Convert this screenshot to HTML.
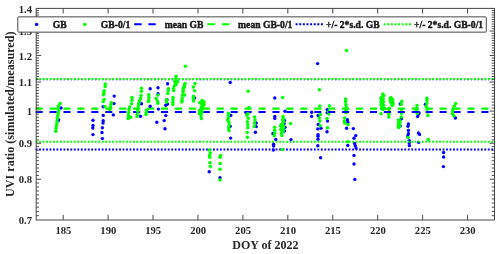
<!DOCTYPE html>
<html><head><meta charset="utf-8"><title>UVI ratio</title>
<style>html,body{margin:0;padding:0;background:#fff}svg{display:block}text{font-family:"Liberation Serif",serif;font-weight:bold;fill:#262626}</style></head>
<body>
<svg width="500" height="254" viewBox="0 0 500 254">
<rect width="500" height="254" fill="#fff"/>
<g fill="#0000ff">
<circle cx="317.6" cy="63.6" r="1.7"/>
<circle cx="327.2" cy="109.6" r="1.7"/>
<circle cx="311.6" cy="112.2" r="1.7"/>
<circle cx="311.6" cy="116.4" r="1.7"/>
<circle cx="318.2" cy="115.6" r="1.7"/>
<circle cx="318.2" cy="124.4" r="1.7"/>
<circle cx="317.8" cy="128.9" r="1.7"/>
<circle cx="321.0" cy="128.2" r="1.7"/>
<circle cx="318.0" cy="134.6" r="1.7"/>
<circle cx="318.0" cy="136.2" r="1.7"/>
<circle cx="318.0" cy="139.2" r="1.7"/>
<circle cx="317.8" cy="145.8" r="1.7"/>
<circle cx="320.6" cy="157.8" r="1.7"/>
<circle cx="327.2" cy="112.8" r="1.7"/>
<circle cx="327.5" cy="121.1" r="1.7"/>
<circle cx="327.0" cy="131.8" r="1.7"/>
<circle cx="347.4" cy="119.8" r="1.7"/>
<circle cx="347.8" cy="122.2" r="1.7"/>
<circle cx="346.6" cy="128.2" r="1.7"/>
<circle cx="353.4" cy="128.6" r="1.7"/>
<circle cx="355.8" cy="135.6" r="1.7"/>
<circle cx="354.0" cy="138.2" r="1.7"/>
<circle cx="347.8" cy="145.4" r="1.7"/>
<circle cx="354.6" cy="143.5" r="1.7"/>
<circle cx="355.3" cy="145.6" r="1.7"/>
<circle cx="356.0" cy="148.0" r="1.7"/>
<circle cx="354.0" cy="155.4" r="1.7"/>
<circle cx="354.0" cy="164.0" r="1.7"/>
<circle cx="354.8" cy="179.4" r="1.7"/>
<circle cx="400.2" cy="104.0" r="1.7"/>
<circle cx="401.4" cy="118.8" r="1.7"/>
<circle cx="400.2" cy="126.0" r="1.7"/>
<circle cx="408.4" cy="124.0" r="1.7"/>
<circle cx="408.0" cy="126.3" r="1.7"/>
<circle cx="408.4" cy="130.4" r="1.7"/>
<circle cx="408.4" cy="133.7" r="1.7"/>
<circle cx="407.8" cy="136.0" r="1.7"/>
<circle cx="409.2" cy="140.6" r="1.7"/>
<circle cx="409.2" cy="143.0" r="1.7"/>
<circle cx="409.4" cy="145.6" r="1.7"/>
<circle cx="417.6" cy="116.5" r="1.7"/>
<circle cx="418.8" cy="114.0" r="1.7"/>
<circle cx="419.0" cy="112.8" r="1.7"/>
<circle cx="418.4" cy="133.0" r="1.7"/>
<circle cx="419.6" cy="134.4" r="1.7"/>
<circle cx="418.7" cy="142.4" r="1.7"/>
<circle cx="425.4" cy="104.2" r="1.7"/>
</g>
<g fill="#00ff00">
<circle cx="346.6" cy="50.6" r="1.75"/>
<circle cx="319.4" cy="89.8" r="1.75"/>
<circle cx="319.8" cy="106.1" r="1.75"/>
<circle cx="320.4" cy="114.4" r="1.75"/>
<circle cx="319.2" cy="118.0" r="1.75"/>
<circle cx="319.8" cy="121.1" r="1.75"/>
<circle cx="320.2" cy="125.8" r="1.75"/>
<circle cx="329.3" cy="105.8" r="1.75"/>
<circle cx="328.8" cy="111.4" r="1.75"/>
<circle cx="328.8" cy="114.0" r="1.75"/>
<circle cx="327.0" cy="118.4" r="1.75"/>
<circle cx="327.5" cy="127.7" r="1.75"/>
<circle cx="345.6" cy="99.0" r="1.75"/>
<circle cx="345.6" cy="101.4" r="1.75"/>
<circle cx="345.8" cy="104.4" r="1.75"/>
<circle cx="346.2" cy="107.1" r="1.75"/>
<circle cx="346.0" cy="110.6" r="1.75"/>
<circle cx="346.0" cy="112.8" r="1.75"/>
<circle cx="344.6" cy="118.0" r="1.75"/>
<circle cx="344.4" cy="121.0" r="1.75"/>
<circle cx="344.6" cy="123.0" r="1.75"/>
<circle cx="348.0" cy="124.6" r="1.75"/>
<circle cx="348.0" cy="141.8" r="1.75"/>
<circle cx="383.6" cy="95.5" r="1.75"/>
<circle cx="380.8" cy="98.5" r="1.75"/>
<circle cx="383.2" cy="99.0" r="1.75"/>
<circle cx="380.9" cy="102.0" r="1.75"/>
<circle cx="383.4" cy="102.0" r="1.75"/>
<circle cx="381.0" cy="105.0" r="1.75"/>
<circle cx="383.5" cy="105.2" r="1.75"/>
<circle cx="383.8" cy="108.0" r="1.75"/>
<circle cx="381.4" cy="108.5" r="1.75"/>
<circle cx="382.8" cy="94.0" r="1.75"/>
<circle cx="381.8" cy="97.0" r="1.75"/>
<circle cx="381.8" cy="100.6" r="1.75"/>
<circle cx="382.2" cy="103.6" r="1.75"/>
<circle cx="382.2" cy="106.6" r="1.75"/>
<circle cx="382.8" cy="109.6" r="1.75"/>
<circle cx="381.0" cy="113.7" r="1.75"/>
<circle cx="390.2" cy="98.8" r="1.75"/>
<circle cx="392.6" cy="99.5" r="1.75"/>
<circle cx="390.4" cy="101.5" r="1.75"/>
<circle cx="392.8" cy="102.0" r="1.75"/>
<circle cx="393.0" cy="104.0" r="1.75"/>
<circle cx="391.0" cy="97.6" r="1.75"/>
<circle cx="391.4" cy="100.0" r="1.75"/>
<circle cx="391.4" cy="103.0" r="1.75"/>
<circle cx="392.2" cy="105.4" r="1.75"/>
<circle cx="389.4" cy="108.6" r="1.75"/>
<circle cx="388.8" cy="111.6" r="1.75"/>
<circle cx="388.8" cy="114.6" r="1.75"/>
<circle cx="388.8" cy="117.0" r="1.75"/>
<circle cx="401.8" cy="101.2" r="1.75"/>
<circle cx="401.4" cy="104.2" r="1.75"/>
<circle cx="401.4" cy="109.6" r="1.75"/>
<circle cx="401.4" cy="113.2" r="1.75"/>
<circle cx="401.4" cy="117.0" r="1.75"/>
<circle cx="399.4" cy="120.5" r="1.75"/>
<circle cx="399.6" cy="123.5" r="1.75"/>
<circle cx="399.4" cy="126.2" r="1.75"/>
<circle cx="400.0" cy="121.5" r="1.75"/>
<circle cx="398.4" cy="120.0" r="1.75"/>
<circle cx="398.6" cy="123.0" r="1.75"/>
<circle cx="398.2" cy="125.4" r="1.75"/>
<circle cx="398.6" cy="127.6" r="1.75"/>
<circle cx="408.0" cy="137.6" r="1.75"/>
<circle cx="417.0" cy="105.6" r="1.75"/>
<circle cx="416.7" cy="108.4" r="1.75"/>
<circle cx="416.6" cy="110.8" r="1.75"/>
<circle cx="417.3" cy="113.2" r="1.75"/>
<circle cx="426.8" cy="98.2" r="1.75"/>
<circle cx="427.0" cy="100.6" r="1.75"/>
<circle cx="426.8" cy="103.6" r="1.75"/>
<circle cx="426.2" cy="106.6" r="1.75"/>
<circle cx="427.0" cy="109.0" r="1.75"/>
<circle cx="427.4" cy="112.1" r="1.75"/>
<circle cx="427.8" cy="115.6" r="1.75"/>
<circle cx="428.2" cy="139.6" r="1.75"/>
</g>
<line x1="35.60" x2="494.50" y1="112.00" y2="112.00" stroke="#0000ff" stroke-width="2.1" stroke-dasharray="7.1 6.83"/>
<line x1="35.60" x2="494.50" y1="108.60" y2="108.60" stroke="#00ff00" stroke-width="2.1" stroke-dasharray="7.1 6.83"/>
<line x1="35.60" x2="494.50" y1="149.55" y2="149.55" stroke="#0000ff" stroke-width="2" stroke-dasharray="1.85 1.6286"/>
<line x1="35.60" x2="494.50" y1="79.5" y2="79.5" stroke="#0000ff" stroke-width="2" stroke-opacity="0.6" stroke-dasharray="1.3 2.1786" stroke-dashoffset="-0.28"/>
<line x1="35.60" x2="494.50" y1="79.00" y2="79.00" stroke="#00ff00" stroke-width="2" stroke-dasharray="1.85 1.6286" stroke-dashoffset="-0.3"/>
<line x1="35.60" x2="494.50" y1="141.80" y2="141.80" stroke="#00ff00" stroke-width="2" stroke-dasharray="1.85 1.6286"/>
<g fill="#0000ff">
<circle cx="61.0" cy="108.0" r="1.7"/>
<circle cx="58.6" cy="119.6" r="1.7"/>
<circle cx="58.4" cy="120.5" r="1.7"/>
<circle cx="93.0" cy="120.2" r="1.7"/>
<circle cx="93.0" cy="125.4" r="1.7"/>
<circle cx="92.8" cy="128.0" r="1.7"/>
<circle cx="93.0" cy="134.6" r="1.7"/>
<circle cx="103.2" cy="106.8" r="1.7"/>
<circle cx="103.2" cy="115.4" r="1.7"/>
<circle cx="103.2" cy="120.8" r="1.7"/>
<circle cx="103.0" cy="123.0" r="1.7"/>
<circle cx="102.4" cy="127.8" r="1.7"/>
<circle cx="102.0" cy="132.5" r="1.7"/>
<circle cx="102.4" cy="138.6" r="1.7"/>
<circle cx="114.2" cy="96.1" r="1.7"/>
<circle cx="114.0" cy="103.6" r="1.7"/>
<circle cx="113.3" cy="114.9" r="1.7"/>
<circle cx="141.5" cy="103.8" r="1.7"/>
<circle cx="140.5" cy="116.3" r="1.7"/>
<circle cx="150.2" cy="88.7" r="1.7"/>
<circle cx="150.2" cy="106.3" r="1.7"/>
<circle cx="158.0" cy="87.8" r="1.7"/>
<circle cx="158.0" cy="93.8" r="1.7"/>
<circle cx="158.4" cy="109.1" r="1.7"/>
<circle cx="167.6" cy="83.7" r="1.7"/>
<circle cx="167.0" cy="99.8" r="1.7"/>
<circle cx="165.8" cy="105.3" r="1.7"/>
<circle cx="167.5" cy="104.1" r="1.7"/>
<circle cx="194.6" cy="98.0" r="1.7"/>
<circle cx="165.8" cy="115.6" r="1.7"/>
<circle cx="156.8" cy="122.2" r="1.7"/>
<circle cx="164.2" cy="120.6" r="1.7"/>
<circle cx="165.0" cy="128.8" r="1.7"/>
<circle cx="230.2" cy="82.4" r="1.7"/>
<circle cx="230.8" cy="115.4" r="1.7"/>
<circle cx="230.2" cy="126.2" r="1.7"/>
<circle cx="230.6" cy="138.1" r="1.7"/>
<circle cx="209.2" cy="171.8" r="1.7"/>
<circle cx="220.0" cy="177.8" r="1.7"/>
<circle cx="246.0" cy="112.4" r="1.7"/>
<circle cx="274.8" cy="98.0" r="1.7"/>
<circle cx="285.0" cy="111.2" r="1.7"/>
<circle cx="256.2" cy="123.0" r="1.7"/>
<circle cx="256.2" cy="126.6" r="1.7"/>
<circle cx="255.4" cy="132.2" r="1.7"/>
<circle cx="274.8" cy="116.4" r="1.7"/>
<circle cx="274.8" cy="118.4" r="1.7"/>
<circle cx="273.0" cy="133.5" r="1.7"/>
<circle cx="275.8" cy="139.4" r="1.7"/>
<circle cx="273.6" cy="144.2" r="1.7"/>
<circle cx="273.6" cy="146.0" r="1.7"/>
<circle cx="273.4" cy="150.0" r="1.7"/>
<circle cx="284.6" cy="120.6" r="1.7"/>
<circle cx="284.2" cy="123.6" r="1.7"/>
<circle cx="285.0" cy="127.2" r="1.7"/>
<circle cx="284.5" cy="131.0" r="1.7"/>
<circle cx="291.0" cy="139.6" r="1.7"/>
<circle cx="455.4" cy="118.0" r="1.7"/>
<circle cx="443.6" cy="152.5" r="1.7"/>
<circle cx="443.6" cy="157.0" r="1.7"/>
<circle cx="443.4" cy="166.6" r="1.7"/>
</g>
<g fill="#00ff00">
<circle cx="60.2" cy="103.4" r="1.75"/>
<circle cx="58.4" cy="106.0" r="1.75"/>
<circle cx="58.2" cy="108.4" r="1.75"/>
<circle cx="58.6" cy="111.0" r="1.75"/>
<circle cx="58.2" cy="113.5" r="1.75"/>
<circle cx="57.7" cy="116.0" r="1.75"/>
<circle cx="57.3" cy="118.5" r="1.75"/>
<circle cx="57.0" cy="121.0" r="1.75"/>
<circle cx="56.8" cy="123.5" r="1.75"/>
<circle cx="56.4" cy="126.0" r="1.75"/>
<circle cx="56.0" cy="128.5" r="1.75"/>
<circle cx="55.7" cy="131.3" r="1.75"/>
<circle cx="105.2" cy="84.0" r="1.75"/>
<circle cx="105.2" cy="86.4" r="1.75"/>
<circle cx="104.2" cy="90.8" r="1.75"/>
<circle cx="103.8" cy="93.0" r="1.75"/>
<circle cx="103.4" cy="94.8" r="1.75"/>
<circle cx="104.2" cy="99.6" r="1.75"/>
<circle cx="103.2" cy="101.4" r="1.75"/>
<circle cx="105.0" cy="106.4" r="1.75"/>
<circle cx="111.4" cy="102.8" r="1.75"/>
<circle cx="111.0" cy="104.6" r="1.75"/>
<circle cx="110.4" cy="107.0" r="1.75"/>
<circle cx="109.8" cy="109.4" r="1.75"/>
<circle cx="132.0" cy="97.6" r="1.75"/>
<circle cx="132.0" cy="100.2" r="1.75"/>
<circle cx="131.6" cy="103.8" r="1.75"/>
<circle cx="129.6" cy="107.0" r="1.75"/>
<circle cx="129.0" cy="109.4" r="1.75"/>
<circle cx="128.6" cy="112.4" r="1.75"/>
<circle cx="128.4" cy="115.4" r="1.75"/>
<circle cx="128.2" cy="118.6" r="1.75"/>
<circle cx="130.8" cy="117.2" r="1.75"/>
<circle cx="141.4" cy="88.2" r="1.75"/>
<circle cx="141.4" cy="91.2" r="1.75"/>
<circle cx="141.0" cy="95.6" r="1.75"/>
<circle cx="140.5" cy="98.4" r="1.75"/>
<circle cx="139.6" cy="100.8" r="1.75"/>
<circle cx="138.8" cy="103.2" r="1.75"/>
<circle cx="138.4" cy="105.4" r="1.75"/>
<circle cx="138.0" cy="108.2" r="1.75"/>
<circle cx="137.8" cy="111.2" r="1.75"/>
<circle cx="137.4" cy="114.2" r="1.75"/>
<circle cx="137.1" cy="116.6" r="1.75"/>
<circle cx="148.8" cy="94.8" r="1.75"/>
<circle cx="148.8" cy="97.6" r="1.75"/>
<circle cx="148.6" cy="100.6" r="1.75"/>
<circle cx="148.4" cy="101.6" r="1.75"/>
<circle cx="146.4" cy="110.0" r="1.75"/>
<circle cx="146.2" cy="112.4" r="1.75"/>
<circle cx="145.9" cy="114.4" r="1.75"/>
<circle cx="157.8" cy="95.0" r="1.75"/>
<circle cx="156.2" cy="98.6" r="1.75"/>
<circle cx="157.4" cy="101.0" r="1.75"/>
<circle cx="157.8" cy="103.2" r="1.75"/>
<circle cx="168.4" cy="88.7" r="1.75"/>
<circle cx="168.2" cy="90.8" r="1.75"/>
<circle cx="167.8" cy="93.4" r="1.75"/>
<circle cx="166.6" cy="99.8" r="1.75"/>
<circle cx="166.6" cy="102.0" r="1.75"/>
<circle cx="176.0" cy="76.2" r="1.75"/>
<circle cx="176.0" cy="78.6" r="1.75"/>
<circle cx="176.0" cy="81.0" r="1.75"/>
<circle cx="175.4" cy="83.4" r="1.75"/>
<circle cx="174.4" cy="85.8" r="1.75"/>
<circle cx="173.6" cy="88.6" r="1.75"/>
<circle cx="173.6" cy="90.4" r="1.75"/>
<circle cx="177.6" cy="82.0" r="1.75"/>
<circle cx="174.8" cy="81.2" r="1.75"/>
<circle cx="177.2" cy="81.2" r="1.75"/>
<circle cx="176.0" cy="84.8" r="1.75"/>
<circle cx="173.0" cy="97.4" r="1.75"/>
<circle cx="173.0" cy="99.8" r="1.75"/>
<circle cx="172.8" cy="102.2" r="1.75"/>
<circle cx="172.8" cy="104.4" r="1.75"/>
<circle cx="185.4" cy="66.2" r="1.75"/>
<circle cx="184.8" cy="84.7" r="1.75"/>
<circle cx="184.0" cy="87.3" r="1.75"/>
<circle cx="183.6" cy="87.6" r="1.75"/>
<circle cx="183.2" cy="90.4" r="1.75"/>
<circle cx="185.0" cy="83.5" r="1.75"/>
<circle cx="184.3" cy="86.0" r="1.75"/>
<circle cx="183.2" cy="88.9" r="1.75"/>
<circle cx="183.0" cy="92.0" r="1.75"/>
<circle cx="184.6" cy="95.0" r="1.75"/>
<circle cx="182.6" cy="95.0" r="1.75"/>
<circle cx="182.2" cy="98.0" r="1.75"/>
<circle cx="182.0" cy="100.4" r="1.75"/>
<circle cx="181.9" cy="102.0" r="1.75"/>
<circle cx="195.0" cy="83.5" r="1.75"/>
<circle cx="193.4" cy="87.0" r="1.75"/>
<circle cx="194.6" cy="90.7" r="1.75"/>
<circle cx="193.5" cy="96.2" r="1.75"/>
<circle cx="193.3" cy="98.5" r="1.75"/>
<circle cx="193.5" cy="101.0" r="1.75"/>
<circle cx="199.6" cy="102.8" r="1.75"/>
<circle cx="203.8" cy="101.5" r="1.75"/>
<circle cx="204.0" cy="104.2" r="1.75"/>
<circle cx="202.8" cy="102.5" r="1.75"/>
<circle cx="203.2" cy="106.0" r="1.75"/>
<circle cx="199.6" cy="110.5" r="1.75"/>
<circle cx="199.4" cy="113.4" r="1.75"/>
<circle cx="202.0" cy="111.5" r="1.75"/>
<circle cx="201.0" cy="115.5" r="1.75"/>
<circle cx="203.0" cy="103.0" r="1.75"/>
<circle cx="202.6" cy="107.5" r="1.75"/>
<circle cx="201.8" cy="109.5" r="1.75"/>
<circle cx="199.9" cy="112.5" r="1.75"/>
<circle cx="201.6" cy="113.0" r="1.75"/>
<circle cx="202.0" cy="100.4" r="1.75"/>
<circle cx="201.4" cy="103.2" r="1.75"/>
<circle cx="202.6" cy="105.0" r="1.75"/>
<circle cx="201.4" cy="106.8" r="1.75"/>
<circle cx="200.8" cy="109.2" r="1.75"/>
<circle cx="200.6" cy="111.6" r="1.75"/>
<circle cx="200.6" cy="114.0" r="1.75"/>
<circle cx="201.4" cy="118.6" r="1.75"/>
<circle cx="228.4" cy="113.2" r="1.75"/>
<circle cx="228.4" cy="115.6" r="1.75"/>
<circle cx="228.2" cy="118.0" r="1.75"/>
<circle cx="227.8" cy="120.2" r="1.75"/>
<circle cx="229.0" cy="122.6" r="1.75"/>
<circle cx="229.0" cy="125.6" r="1.75"/>
<circle cx="228.6" cy="128.0" r="1.75"/>
<circle cx="229.0" cy="130.6" r="1.75"/>
<circle cx="248.2" cy="91.2" r="1.75"/>
<circle cx="249.0" cy="107.6" r="1.75"/>
<circle cx="247.8" cy="113.8" r="1.75"/>
<circle cx="246.8" cy="115.3" r="1.75"/>
<circle cx="248.2" cy="118.2" r="1.75"/>
<circle cx="247.4" cy="121.8" r="1.75"/>
<circle cx="247.8" cy="124.8" r="1.75"/>
<circle cx="247.8" cy="127.8" r="1.75"/>
<circle cx="247.2" cy="132.4" r="1.75"/>
<circle cx="247.3" cy="137.2" r="1.75"/>
<circle cx="254.6" cy="117.0" r="1.75"/>
<circle cx="255.0" cy="120.0" r="1.75"/>
<circle cx="254.4" cy="123.0" r="1.75"/>
<circle cx="254.2" cy="126.6" r="1.75"/>
<circle cx="209.4" cy="150.0" r="1.75"/>
<circle cx="210.2" cy="153.0" r="1.75"/>
<circle cx="209.5" cy="155.6" r="1.75"/>
<circle cx="209.8" cy="157.6" r="1.75"/>
<circle cx="209.9" cy="162.7" r="1.75"/>
<circle cx="210.4" cy="166.4" r="1.75"/>
<circle cx="220.5" cy="155.6" r="1.75"/>
<circle cx="220.0" cy="157.2" r="1.75"/>
<circle cx="220.2" cy="163.6" r="1.75"/>
<circle cx="220.0" cy="169.2" r="1.75"/>
<circle cx="220.0" cy="180.0" r="1.75"/>
<circle cx="282.6" cy="97.4" r="1.75"/>
<circle cx="274.6" cy="127.3" r="1.75"/>
<circle cx="274.6" cy="130.3" r="1.75"/>
<circle cx="274.7" cy="133.3" r="1.75"/>
<circle cx="274.2" cy="135.8" r="1.75"/>
<circle cx="283.4" cy="118.5" r="1.75"/>
<circle cx="283.6" cy="121.5" r="1.75"/>
<circle cx="283.0" cy="124.0" r="1.75"/>
<circle cx="283.6" cy="126.5" r="1.75"/>
<circle cx="283.4" cy="129.5" r="1.75"/>
<circle cx="283.0" cy="131.5" r="1.75"/>
<circle cx="280.6" cy="126.0" r="1.75"/>
<circle cx="280.8" cy="129.5" r="1.75"/>
<circle cx="283.0" cy="116.4" r="1.75"/>
<circle cx="282.6" cy="120.0" r="1.75"/>
<circle cx="281.4" cy="124.2" r="1.75"/>
<circle cx="282.0" cy="127.2" r="1.75"/>
<circle cx="282.0" cy="130.2" r="1.75"/>
<circle cx="281.4" cy="133.0" r="1.75"/>
<circle cx="281.8" cy="135.6" r="1.75"/>
<circle cx="290.6" cy="123.6" r="1.75"/>
<circle cx="282.2" cy="149.6" r="1.75"/>
<circle cx="455.6" cy="103.6" r="1.75"/>
<circle cx="454.2" cy="106.0" r="1.75"/>
<circle cx="453.2" cy="108.4" r="1.75"/>
<circle cx="452.6" cy="110.8" r="1.75"/>
<circle cx="452.3" cy="113.5" r="1.75"/>
<circle cx="453.8" cy="115.8" r="1.75"/>
</g>
<g stroke="#484848" stroke-width="1" fill="none">
<rect x="36.2" y="8.4" width="458.30" height="211.60"/>
<path d="M63.16 220.0v-5.1M63.16 8.4v5.1M108.09 220.0v-5.1M108.09 8.4v5.1M153.02 220.0v-5.1M153.02 8.4v5.1M197.95 220.0v-5.1M197.95 8.4v5.1M242.88 220.0v-5.1M242.88 8.4v5.1M287.82 220.0v-5.1M287.82 8.4v5.1M332.75 220.0v-5.1M332.75 8.4v5.1M377.68 220.0v-5.1M377.68 8.4v5.1M422.61 220.0v-5.1M422.61 8.4v5.1M467.54 220.0v-5.1M467.54 8.4v5.1M36.2 179.24h4.9M494.5 179.24h-4.9M36.2 143.28h4.9M494.5 143.28h-4.9M36.2 111.12h4.9M494.5 111.12h-4.9M36.2 82.02h4.9M494.5 82.02h-4.9M36.2 55.46h4.9M494.5 55.46h-4.9M36.2 31.02h4.9M494.5 31.02h-4.9"/>
<path stroke="#333" stroke-width="0.85" d="M36.2 215.67h2.8M494.5 215.67h-2.8M36.2 211.40h2.8M494.5 211.40h-2.8M36.2 207.19h2.8M494.5 207.19h-2.8M36.2 203.04h2.8M494.5 203.04h-2.8M36.2 198.94h2.8M494.5 198.94h-2.8M36.2 194.89h2.8M494.5 194.89h-2.8M36.2 190.90h2.8M494.5 190.90h-2.8M36.2 186.97h2.8M494.5 186.97h-2.8M36.2 183.08h2.8M494.5 183.08h-2.8M36.2 175.44h2.8M494.5 175.44h-2.8M36.2 171.70h2.8M494.5 171.70h-2.8M36.2 168.00h2.8M494.5 168.00h-2.8M36.2 164.34h2.8M494.5 164.34h-2.8M36.2 160.73h2.8M494.5 160.73h-2.8M36.2 157.16h2.8M494.5 157.16h-2.8M36.2 153.63h2.8M494.5 153.63h-2.8M36.2 150.14h2.8M494.5 150.14h-2.8M36.2 146.69h2.8M494.5 146.69h-2.8M36.2 139.91h2.8M494.5 139.91h-2.8M36.2 136.57h2.8M494.5 136.57h-2.8M36.2 133.27h2.8M494.5 133.27h-2.8M36.2 130.01h2.8M494.5 130.01h-2.8M36.2 126.77h2.8M494.5 126.77h-2.8M36.2 123.58h2.8M494.5 123.58h-2.8M36.2 120.41h2.8M494.5 120.41h-2.8M36.2 117.28h2.8M494.5 117.28h-2.8M36.2 114.18h2.8M494.5 114.18h-2.8M36.2 108.08h2.8M494.5 108.08h-2.8M36.2 105.07h2.8M494.5 105.07h-2.8M36.2 102.09h2.8M494.5 102.09h-2.8M36.2 99.14h2.8M494.5 99.14h-2.8M36.2 96.22h2.8M494.5 96.22h-2.8M36.2 93.33h2.8M494.5 93.33h-2.8M36.2 90.46h2.8M494.5 90.46h-2.8M36.2 87.62h2.8M494.5 87.62h-2.8M36.2 84.81h2.8M494.5 84.81h-2.8M36.2 79.26h2.8M494.5 79.26h-2.8M36.2 76.52h2.8M494.5 76.52h-2.8M36.2 73.81h2.8M494.5 73.81h-2.8M36.2 71.12h2.8M494.5 71.12h-2.8M36.2 68.45h2.8M494.5 68.45h-2.8M36.2 65.81h2.8M494.5 65.81h-2.8M36.2 63.19h2.8M494.5 63.19h-2.8M36.2 60.59h2.8M494.5 60.59h-2.8M36.2 58.01h2.8M494.5 58.01h-2.8M36.2 52.92h2.8M494.5 52.92h-2.8M36.2 50.41h2.8M494.5 50.41h-2.8M36.2 47.92h2.8M494.5 47.92h-2.8M36.2 45.45h2.8M494.5 45.45h-2.8M36.2 43.00h2.8M494.5 43.00h-2.8M36.2 40.56h2.8M494.5 40.56h-2.8M36.2 38.15h2.8M494.5 38.15h-2.8M36.2 35.76h2.8M494.5 35.76h-2.8M36.2 33.38h2.8M494.5 33.38h-2.8M36.2 28.68h2.8M494.5 28.68h-2.8M36.2 26.36h2.8M494.5 26.36h-2.8M36.2 24.06h2.8M494.5 24.06h-2.8M36.2 21.77h2.8M494.5 21.77h-2.8M36.2 19.50h2.8M494.5 19.50h-2.8M36.2 17.25h2.8M494.5 17.25h-2.8M36.2 15.01h2.8M494.5 15.01h-2.8M36.2 12.79h2.8M494.5 12.79h-2.8M36.2 10.59h2.8M494.5 10.59h-2.8"/>
</g>
<g font-size="11.4px" text-anchor="middle">
<text transform="translate(63.4 234.4) scale(0.935 1)">185</text>
<text transform="translate(108.3 234.4) scale(0.935 1)">190</text>
<text transform="translate(153.2 234.4) scale(0.935 1)">195</text>
<text transform="translate(198.2 234.4) scale(0.935 1)">200</text>
<text transform="translate(243.1 234.4) scale(0.935 1)">205</text>
<text transform="translate(288.0 234.4) scale(0.935 1)">210</text>
<text transform="translate(332.9 234.4) scale(0.935 1)">215</text>
<text transform="translate(377.9 234.4) scale(0.935 1)">220</text>
<text transform="translate(422.8 234.4) scale(0.935 1)">225</text>
<text transform="translate(467.7 234.4) scale(0.935 1)">230</text>
</g>
<g font-size="11.4px" text-anchor="end">
<text transform="translate(32 224.1) scale(0.935 1)">0.7</text>
<text transform="translate(32 183.3) scale(0.935 1)">0.8</text>
<text transform="translate(32 147.4) scale(0.935 1)">0.9</text>
<text transform="translate(32 115.2) scale(0.935 1)">1</text>
<text transform="translate(32 86.1) scale(0.935 1)">1.1</text>
<text transform="translate(32 59.6) scale(0.935 1)">1.2</text>
<text transform="translate(32 35.1) scale(0.935 1)">1.3</text>
<text transform="translate(32 12.5) scale(0.935 1)">1.4</text>
</g>
<text x="265.4" y="248.6" font-size="12px" text-anchor="middle">DOY of 2022</text>
<text transform="translate(13.6 114.2) rotate(-90)" font-size="12.13px" text-anchor="middle">UVI ratio (simulated/measured)</text>
<rect x="17.8" y="16.85" width="468.5" height="15.3" rx="0.9" fill="#fff" stroke="#484848" stroke-width="1"/>
<circle cx="36.6" cy="24.4" r="1.7" fill="#0000ff"/>
<circle cx="84.8" cy="24.4" r="1.7" fill="#00ff00"/>
<path d="M134.2 24.3h7.5M148.4 24.3h7.3" stroke="#0000ff" stroke-width="2.1"/>
<path d="M207.2 24.3h7.7M222.2 24.3h7.1" stroke="#00ff00" stroke-width="2.1"/>
<line x1="295.6" x2="323.2" y1="24.3" y2="24.3" stroke="#0000ff" stroke-width="2" stroke-dasharray="2 1.62"/>
<line x1="383.6" x2="411.2" y1="24.3" y2="24.3" stroke="#00ff00" stroke-width="2" stroke-dasharray="2 1.62"/>
<g font-size="9.65px" fill="#000" stroke="#000" stroke-width="0.35">
<text x="52.8" y="27.95">GB</text>
<text x="100.8" y="27.95">GB-0/1</text>
<text x="164.7" y="27.95">mean GB</text>
<text x="238.1" y="27.95">mean GB-0/1</text>
<text x="326" y="27.95">+/- 2*s.d. GB</text>
<text x="414" y="27.95">+/- 2*s.d. GB-0/1</text>
</g>
</svg>
</body></html>
